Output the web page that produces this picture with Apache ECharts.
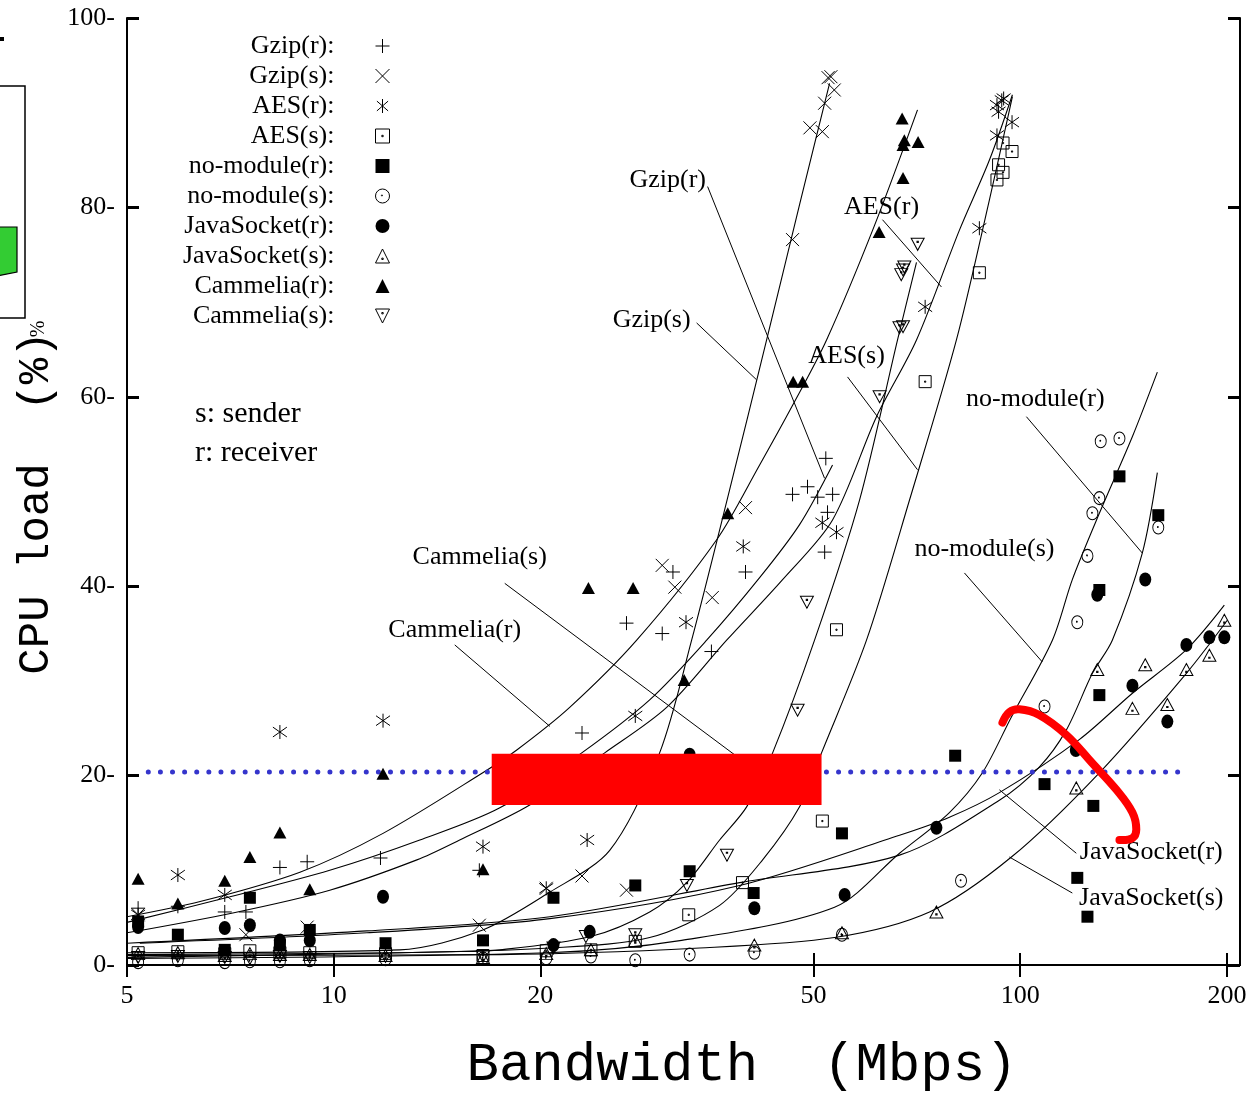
<!DOCTYPE html>
<html><head><meta charset="utf-8">
<script src="https://cdn.jsdelivr.net/npm/echarts@6/dist/echarts.min.js"></script>
<style>html,body{margin:0;padding:0;background:#fff}#c{width:1249px;height:1095px}</style>
</head><body><div id="c"></div><script>
// ---------- DATA ----------
const seriesNames = ['Gzip(r)','Gzip(s)','AES(r)','AES(s)','no-module(r)','no-module(s)','JavaSocket(r)','JavaSocket(s)','Cammelia(r)','Cammelia(s)'];
const xTickValues = [5,10,20,50,100,200];
const yMin = 0, yMax = 100, yStep = 20;

// measured points [bandwidth Mbps, CPU load %]
const gzipR = [[5.19,6.0],[5.93,6.2],[6.94,5.6],[7.45,5.6],[8.35,10.3],[9.15,10.9],[11.7,11.3],[16.3,10.0],[23.0,24.5],[26.7,36.1],[30.1,35.0],[31.2,41.5],[35.5,33.1],[39.8,41.5],[46.6,49.7],[49.0,50.5],[50.7,49.4],[52.4,47.8],[51.9,43.6],[52.1,53.5],[53.3,49.7]];
const gzipS = [[5.19,5.3],[7.45,3.2],[9.15,4.0],[16.3,4.2],[20.4,8.1],[23.0,9.4],[26.7,7.9],[30.1,42.2],[31.4,39.9],[35.6,38.8],[39.8,48.3],[46.6,76.6],[49.4,88.4],[51.5,88.0],[51.9,91.0],[53.6,92.4],[53.0,93.8],[52.5,93.7]];
const aesR = [[5.19,5.3],[5.93,9.5],[6.94,7.4],[8.35,24.6],[11.8,25.8],[16.5,12.5],[20.4,8.1],[23.4,13.2],[27.5,26.3],[32.6,36.2],[39.5,44.2],[51.5,46.7],[54.0,45.7],[72.7,69.5],[87.2,77.8],[92.5,90.8],[94.0,91.3],[94.6,91.5],[93.0,90.1],[97.3,89.0],[92.5,87.6]];
const aesS = [[5.19,1.3],[5.93,1.4],[6.94,1.2],[7.55,1.5],[8.35,1.3],[9.23,1.3],[11.9,1.2],[16.5,1.0],[20.4,1.5],[23.7,1.6],[27.5,2.5],[32.9,5.3],[39.4,8.7],[51.5,15.2],[54.0,35.4],[72.7,61.6],[87.2,73.1],[92.5,82.9],[94.4,83.7],[93.0,84.5],[97.3,85.9],[94.4,86.8]];
const noModR = [[5.19,4.6],[5.93,3.2],[6.94,1.6],[7.55,7.1],[8.35,2.1],[9.23,3.7],[11.9,2.3],[16.5,2.6],[20.9,7.1],[27.5,8.4],[33.0,9.9],[40.9,7.6],[55.0,13.9],[80.4,22.1],[108.5,19.1],[121.1,9.2],[125.3,5.1],[127.8,16.8],[130.4,28.5],[130.4,39.6],[139.5,51.6],[158.9,47.5]];
const noModS = [[5.19,0.3],[5.93,0.5],[6.94,0.3],[7.55,0.4],[8.35,0.4],[9.23,0.5],[11.9,0.6],[16.5,0.7],[20.4,0.7],[23.7,0.9],[27.5,0.5],[33.0,1.1],[41.0,1.3],[55.0,3.2],[82.0,8.9],[108.5,27.3],[121.1,36.2],[125.3,43.2],[127.4,47.7],[130.4,49.3],[131.0,55.3],[139.5,55.6],[158.9,46.2]];
const javaR = [[5.19,4.0],[6.94,3.9],[7.55,4.2],[8.35,2.6],[9.23,2.6],[11.8,7.2],[20.9,2.1],[23.6,3.5],[33.0,22.2],[41.0,6.0],[55.5,7.4],[75.5,14.5],[120.5,22.7],[129.5,39.1],[145.7,29.5],[152.1,40.7],[163.8,25.7],[174.6,33.8],[188.6,34.6],[198.3,34.6]];
const javaS = [[5.19,1.2],[5.93,1.3],[6.94,1.0],[7.55,1.2],[8.35,1.1],[9.23,1.1],[11.9,1.0],[16.5,0.8],[20.4,1.2],[23.7,1.6],[27.5,2.6],[41.0,2.1],[55.0,3.4],[75.5,5.6],[120.7,18.7],[129.5,31.2],[145.7,27.1],[152.1,31.7],[163.8,27.5],[174.6,31.2],[188.6,32.7],[198.3,36.4]];
const camR = [[5.19,9.1],[5.93,6.5],[6.94,8.9],[7.55,11.4],[8.35,14.0],[9.23,8.0],[11.8,20.2],[16.5,10.1],[23.5,39.8],[27.3,39.8],[32.4,30.1],[37.5,47.7],[46.7,61.6],[48.2,61.6],[62.3,77.4],[67.5,83.1],[67.5,86.6],[67.8,87.1],[71.0,86.9],[67.3,89.4]];
const camS = [[5.19,0.8],[5.93,0.9],[6.94,0.8],[7.55,0.7],[8.35,0.9],[9.23,0.8],[11.9,0.9],[16.5,0.9],[20.9,1.8],[23.3,3.0],[27.5,3.2],[32.7,8.4],[37.4,11.6],[47.4,26.9],[48.9,38.3],[62.4,60.0],[66.7,67.3],[67.5,67.4],[67.1,72.9],[67.5,73.4],[67.8,73.7],[70.9,76.1]];

// fitted trend curves
const fitGzipR = [[5.00,4.5],[7.06,7.2],[9.87,10.0],[13.35,13.2],[17.46,16.6],[22.98,22.4],[28.86,28.0],[34.94,34.3],[41.73,40.9],[47.71,46.5],[53.29,52.8]];
const fitGzipS = [[5.00,1.3],[12.48,1.6],[16.49,3.7],[20.65,7.7],[25.24,12.1],[29.84,22.4],[33.22,34.3],[37.74,50.2],[42.72,66.0],[47.71,80.3],[52.76,93.1]];
const fitAesR = [[5.00,3.4],[7.13,5.5],[9.87,7.9],[13.22,11.1],[15.26,13.2],[19.30,16.9],[24.82,22.4],[30.55,27.2],[37.36,34.3],[45.07,40.7],[53.29,47.0],[61.76,57.9],[70.62,66.0],[81.56,77.6],[90.19,85.0],[97.42,91.9]];
const fitAesS = [[5.00,1.1],[12.48,1.3],[20.65,1.8],[28.86,2.9],[36.49,6.3],[42.15,11.1],[47.71,16.7],[51.36,22.4],[59.72,34.3],[68.99,49.1],[80.74,66.0],[90.19,80.8],[97.42,91.7]];
const fitNoModR = [[5.00,2.3],[11.18,3.6],[20.65,5.1],[39.02,8.7],[66.72,11.6],[93.26,17.4],[106.6,20.9],[116.7,24.8],[127.4,30.8],[136.2,34.3],[150.6,43.5],[158.4,52.0]];
const fitNoModS = [[5.00,0.7],[20.51,1.3],[32.13,2.6],[53.65,6.1],[66.72,11.8],[78.87,16.1],[88.10,20.3],[97.09,26.2],[111.4,34.3],[119.1,40.7],[130.4,47.7],[145.7,55.8],[158.4,62.6]];
const fitJavaR = [[5.22,2.3],[11.18,3.4],[20.65,4.9],[39.02,8.4],[66.72,13.7],[78.87,15.6],[93.26,18.2],[121.9,23.8],[145.7,28.7],[174.6,33.3],[198.3,38.0]];
const fitJavaS = [[5.00,1.0],[17.46,1.1],[34.13,1.8],[53.65,2.9],[73.77,5.6],[97.09,11.4],[130.4,20.3],[174.6,30.8],[200.3,36.4]];
const fitCamR = [[5.00,5.1],[6.39,6.7],[8.93,9.8],[11.80,13.9],[16.49,20.3],[18.48,22.7],[22.07,27.2],[27.63,34.3],[36.13,44.9],[41.73,52.8],[46.61,59.1],[52.23,66.0],[61.35,78.1],[70.86,90.3]];
const fitCamS = [[5.00,0.8],[8.93,1.1],[14.76,1.4],[17.46,1.6],[23.68,3.0],[28.86,5.6],[32.67,8.7],[36.49,13.2],[39.95,16.7],[43.59,22.4],[50.17,34.3],[58.34,49.1],[66.27,66.0],[70.62,74.2]];

// threshold line (data coords)
const thresholdLine = [[5.37,20.38],[176.3,20.38]];

// annotations in data coords
const annoLabels = [
  ['Gzip(r)', [30.66,82.9]], ['Gzip(s)', [29.05,68.1]], ['AES(r)', [62.80,80.0]], ['AES(s)', [55.85,64.3]],
  ['no-module(r)', [105.2,59.7]], ['no-module(s)', [88.69,43.9]], ['Cammelia(s)', [16.32,43.1]], ['Cammelia(r)', [15.01,35.4]],
  ['JavaSocket(r)', [155.2,11.9]], ['JavaSocket(s)', [155.2,7.1]]
];
const annoLeaders = [
  [[35.05,82.2],[51.88,51.4]], [[33.78,67.8],[41.30,61.8]], [[63.01,78.7],[76.78,71.6]], [[56.04,62.1],[70.86,52.3]],
  [[102.1,57.9],[150.6,43.5]], [[82.94,41.4],[107.7,32.0]], [[17.75,40.3],[38.37,22.2]], [[15.01,33.8],[20.65,25.2]],
  [[93.26,18.5],[120.7,11.8]], [[96.44,11.4],[119.1,7.6]]
];
const noteLines = [['s: sender',[6.28,58.2]],['r: receiver',[6.28,54.1]]];
const redBox = [[16.99,22.3],[51.36,16.9]];
const redArc = [[94.22,25.6],[96.44,26.7],[99.73,27.0],[106.6,26.4],[116.7,24.3],[127.4,21.3],[138.1,18.5],[145.7,16.1],[147.6,14.3],[145.7,13.4],[139.5,13.2]];

// ---------- STYLE ----------
const serif = '"Liberation Serif","Times New Roman",serif';
const mono = '"Liberation Mono","Courier New",monospace';
const pointData = [gzipR,gzipS,aesR,aesS,noModR,noModS,javaR,javaS,camR,camS];
const fitData = [fitGzipR,fitGzipS,fitAesR,fitAesS,fitNoModR,fitNoModS,fitJavaR,fitJavaS,fitCamR,fitCamS];
const marks = [
  {symbol:'path://M5,0L5,10M0,5L10,5', size:14, filled:false},
  {symbol:'path://M0,0L10,10M10,0L0,10', size:13, filled:false},
  {symbol:'path://M5,0L5,10M1,1.5L9,8.5M9,1.5L1,8.5', size:14, filled:false},
  {symbol:'path://M0,0L10,0L10,10L0,10Z M4.5,4.5L5.5,4.5L5.5,5.5L4.5,5.5Z', size:12, filled:false},
  {symbol:'rect', size:12, filled:true},
  {symbol:'path://M5,0A5,5,0,1,1,4.99,0Z M4.6,5A0.4,0.4,0,1,1,4.61,5Z', size:[11,13], filled:false},
  {symbol:'circle', size:[12,14], filled:true},
  {symbol:'path://M5,0L10,10L0,10Z M4.5,6.5L5.5,6.5L5.5,7.5L4.5,7.5Z', size:[13,12], filled:false},
  {symbol:'triangle', size:[13,12], filled:true},
  {symbol:'path://M0,0L10,0L5,10Z M4.5,2.5L5.5,2.5L5.5,3.5L4.5,3.5Z', size:[13,12], filled:false}
];

const series = [];
fitData.forEach((d,i)=>{
  series.push({name:'fit-'+seriesNames[i], type:'line', data:d, symbol:'none', showSymbol:false, smooth:0.3,
    lineStyle:{color:'#000', width:1.1, opacity:1}, silent:true, z:3, xAxisIndex:0, yAxisIndex:0});
});
series.push({name:'threshold', type:'line', data:thresholdLine, symbol:'none', showSymbol:false,
  lineStyle:{color:'#3535cc', width:5, type:[0.01,12.1], cap:'round', opacity:1}, silent:true, z:4});
pointData.forEach((d,i)=>{
  const m = marks[i];
  series.push({name:seriesNames[i], type:'scatter', data:d, symbol:m.symbol, symbolSize:m.size, silent:true, z:5,
    itemStyle: m.filled ? {color:'#000', opacity:1} : {color:'rgba(0,0,0,0)', borderColor:'#000', borderWidth:1, opacity:1}});
});

const axisLineStyle = {color:'#000', width:2};
const option = {
  animation:false,
  backgroundColor:'#fff',
  grid:{left:127, right:9, top:18, bottom:130, containLabel:false, outerBoundsMode:'none'},
  xAxis:[
    {type:'log', logBase:10, min:5, max:209, position:'bottom',
     axisLine:{show:true, lineStyle:axisLineStyle},
     axisTick:{show:true, inside:true, length:12, lineStyle:{color:'#000', width:2}, customValues:xTickValues},
     axisLabel:{show:true, customValues:xTickValues, margin:18, color:'#000', fontFamily:serif, fontSize:26},
     splitLine:{show:false}, minorTick:{show:false}},
    {type:'log', logBase:10, min:5, max:209, position:'top',
     axisLine:{show:true, lineStyle:axisLineStyle},
     axisTick:{show:true, inside:true, length:12, lineStyle:{color:'#000', width:2}, customValues:xTickValues},
     axisLabel:{show:false}, splitLine:{show:false}, minorTick:{show:false}}
  ],
  yAxis:[
    {type:'value', min:yMin, max:yMax, interval:yStep, position:'left',
     axisLine:{show:true, lineStyle:axisLineStyle},
     axisTick:{show:true, inside:true, length:12, lineStyle:{color:'#000', width:3}},
     axisLabel:{show:true, margin:12, color:'#000', fontFamily:serif, fontSize:26, formatter:v=>v+'-'},
     splitLine:{show:false}},
    {type:'value', min:yMin, max:yMax, interval:yStep, position:'right',
     axisLine:{show:true, lineStyle:axisLineStyle},
     axisTick:{show:true, inside:true, length:12, lineStyle:{color:'#000', width:3}},
     axisLabel:{show:false}, splitLine:{show:false}}
  ],
  legend:{
    data:seriesNames, orient:'vertical', align:'right', right:859, top:33, padding:0,
    itemGap:4, itemWidth:14, itemHeight:14, selectedMode:false,
    formatter:n=>n+':',
    itemStyle:{borderWidth:1, opacity:1},
    textStyle:{fontFamily:serif, fontSize:26, color:'#000', lineHeight:26, padding:[0,36,0,0]}
  },
  series:series
};

const chart = echarts.init(document.getElementById('c'), null, {renderer:'canvas'});
chart.setOption(option);

const P = p => chart.convertToPixel({seriesIndex:0}, p);
const g = [];
annoLeaders.forEach(l=>{
  const a=P(l[0]), b=P(l[1]);
  g.push({type:'line', shape:{x1:a[0],y1:a[1],x2:b[0],y2:b[1]}, style:{stroke:'#000', lineWidth:1}, z:20, silent:true});
});
annoLabels.forEach(a=>{
  const p=P(a[1]);
  g.push({type:'text', x:p[0], y:p[1], style:{text:a[0], fontFamily:serif, fontSize:26, fill:'#000', align:'center', verticalAlign:'middle'}, z:21, silent:true});
});
noteLines.forEach(a=>{
  const p=P(a[1]);
  g.push({type:'text', x:p[0], y:p[1], style:{text:a[0], fontFamily:serif, fontSize:30, fill:'#000', align:'left', verticalAlign:'middle'}, z:21, silent:true});
});
{
  const a=P(redBox[0]), b=P(redBox[1]);
  g.push({type:'rect', shape:{x:a[0], y:a[1], width:b[0]-a[0], height:b[1]-a[1]}, style:{fill:'#ff0000'}, z:50, silent:true});
}
g.push({type:'polyline', shape:{points:redArc.map(P), smooth:0.4}, style:{stroke:'#ff0000', lineWidth:8, lineCap:'round', lineJoin:'round', fill:null}, z:60, silent:true});

// axis titles
g.push({type:'text', x:36, y:503, rotation:Math.PI/2, style:{text:'CPU load  (%)', fontFamily:mono, fontSize:44, fill:'#000', align:'center', verticalAlign:'middle'}, z:30, silent:true});
g.push({type:'text', x:39, y:329, rotation:Math.PI/2, style:{text:'%', fontFamily:serif, fontSize:20, fill:'#000', align:'center', verticalAlign:'middle'}, z:30, silent:true});
g.push({type:'text', x:742, y:1066, style:{text:'Bandwidth  (Mbps)', fontFamily:mono, fontSize:54, fill:'#000', align:'center', verticalAlign:'middle'}, z:30, silent:true});

// cropped remnants at the left edge of the scan
g.push({type:'rect', shape:{x:-5, y:86, width:30, height:232}, style:{fill:'#fff', stroke:'#000', lineWidth:1.5}, z:1, silent:true});
g.push({type:'polygon', shape:{points:[[-3,227],[17,227],[17,272],[-3,276]]}, style:{fill:'#33cc33', stroke:'#000', lineWidth:1.2}, z:2, silent:true});
g.push({type:'rect', shape:{x:0, y:37, width:4, height:4}, style:{fill:'#000'}, z:2, silent:true});

chart.setOption({graphic:g});
</script></body></html>
